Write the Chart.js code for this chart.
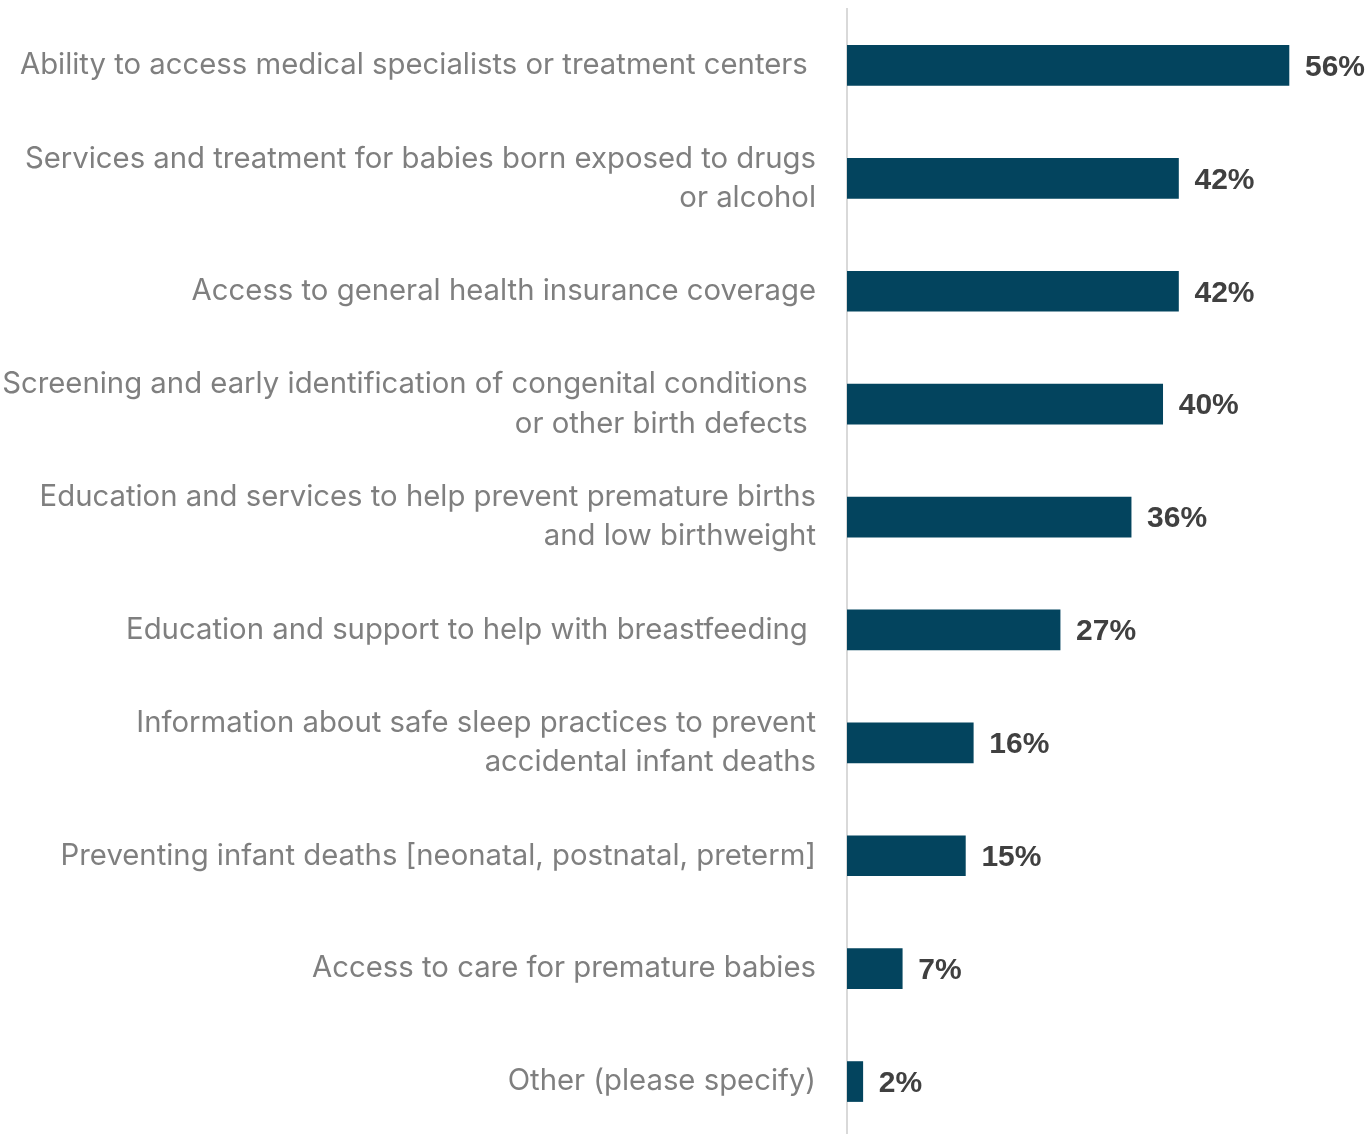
<!DOCTYPE html>
<html>
<head>
<meta charset="utf-8">
<script src="https://cdn.jsdelivr.net/npm/chart.js@4.4.1/dist/chart.umd.min.js"></script>
<style>
  html, body { margin: 0; padding: 0; background: #ffffff; overflow: hidden; }
  #wrap { width: 1369px; height: 1134px; overflow: hidden; }
</style>
</head>
<body>
<div id="wrap"><canvas id="myChart" width="1369" height="1138"></canvas></div>
<script>
// Categories (multi-line ones are split into arrays; trailing spaces kept as in the source labels)
var categories = [
    'Ability to access medical specialists or treatment centers ',
    ['Services and treatment for babies born exposed to drugs', 'or alcohol'],
    'Access to general health insurance coverage',
    ['Screening and early identification of congenital conditions ', 'or other birth defects '],
    ['Education and services to help prevent premature births', 'and low birthweight'],
    'Education and support to help with breastfeeding ',
    ['Information about safe sleep practices to prevent', 'accidental infant deaths'],
    'Preventing infant deaths [neonatal, postnatal, preterm]',
    'Access to care for premature babies',
    'Other (please specify)'
];
var percents = [56, 42, 42, 40, 36, 27, 16, 15, 7, 2];

var barColor = '#03445e';
var labelColor = '#7f7f7f';
var valueColor = '#404040';

// value labels to the right of each bar
var valueLabels = {
    id: 'valueLabels',
    afterDatasetsDraw: function (chart) {
        var ctx = chart.ctx;
        var meta = chart.getDatasetMeta(0);
        ctx.save();
        ctx.font = 'bold 30px "Liberation Sans", Arial, sans-serif';
        ctx.fillStyle = valueColor;
        ctx.textAlign = 'left';
        ctx.textBaseline = 'middle';
        meta.data.forEach(function (bar, i) {
            ctx.fillText(percents[i] + '%', bar.x + 16, bar.y + 2);
        });
        ctx.restore();
    }
};

var ctx = document.getElementById('myChart').getContext('2d');
var myChart = new Chart(ctx, {
    type: 'bar',
    data: {
        labels: categories,
        datasets: [{
            data: percents,
            backgroundColor: barColor,
            barThickness: 40
        }]
    },
    options: {
        indexAxis: 'y',
        responsive: false,
        animation: false,
        layout: { padding: { top: 9, right: 9, bottom: 0, left: 0 } },
        plugins: {
            legend: { display: false },
            tooltip: { enabled: false }
        },
        scales: {
            x: {
                display: false,
                min: 0,
                max: 65
            },
            y: {
                afterFit: function (scale) {
                    scale.width = 847;
                    // no extra room for the first/last label heights
                    scale.paddingTop = 0;
                    scale.paddingBottom = 0;
                },
                grid: { display: false, drawTicks: false },
                border: { display: true, color: '#d9d9d9', width: 2 },
                ticks: {
                    padding: 31,
                    color: labelColor,
                    font: { family: 'Inter, "Open Sans", sans-serif', size: 29.3, lineHeight: 1.34 }
                }
            }
        }
    },
    plugins: [valueLabels]
});
</script>
</body>
</html>
